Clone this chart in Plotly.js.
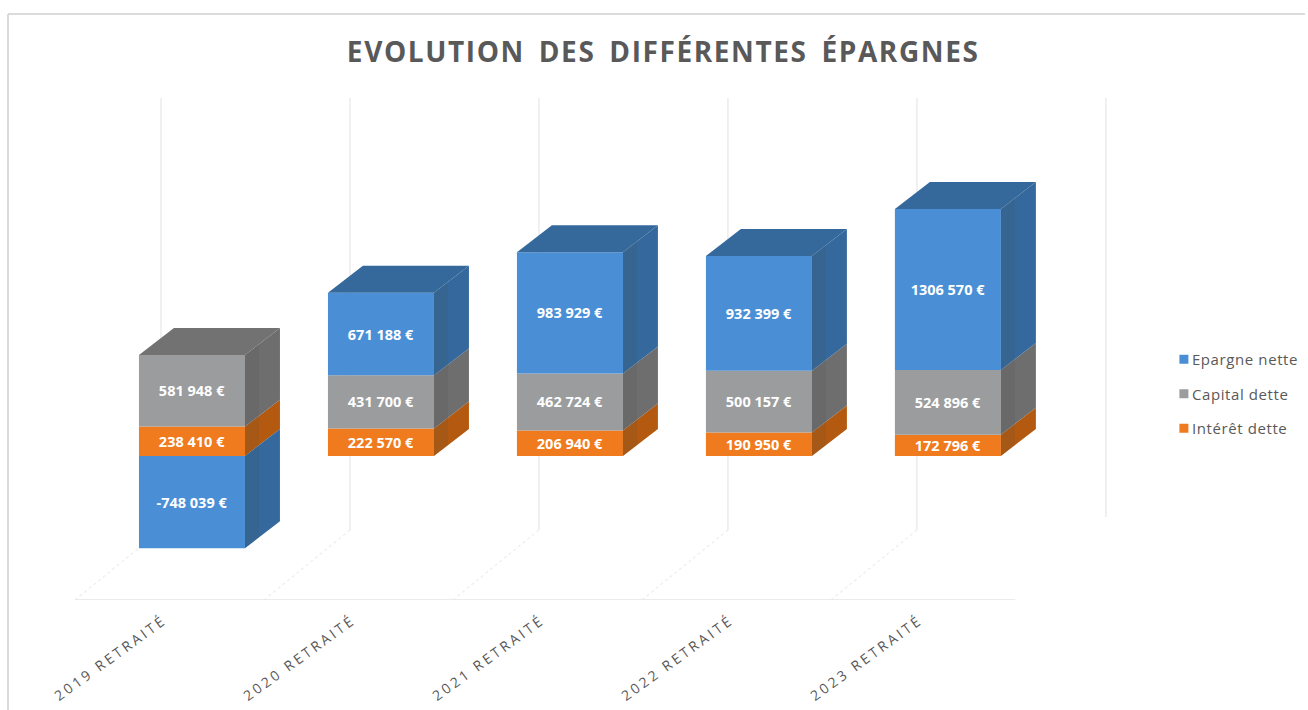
<!DOCTYPE html>
<html>
<head>
<meta charset="utf-8">
<script src="https://cdn.plot.ly/plotly-3.0.1.min.js"></script>
<style>
html,body{margin:0;padding:0;background:#fff}
#chart{width:1308px;height:710px}
.gtitle{letter-spacing:1.6px;word-spacing:5px}
.xtick text{letter-spacing:2.9px}
.legendtext{letter-spacing:.6px}
</style>
</head>
<body>
<div id="chart"></div>
<script>
// ---- data ----
var categories = ["2019 RETRAITÉ","2020 RETRAITÉ","2021 RETRAITÉ","2022 RETRAITÉ","2023 RETRAITÉ"];
var interet = [238410,222570,206940,190950,172796];
var capital = [581948,431700,462724,500157,524896];
var epargne = [-748039,671188,983929,932399,1306570];
var seriesNames = ["Intérêt dette","Capital dette","Epargne nette"];

// ---- styles ----
var frontColors = ["#F07A1E","#9A9C9E","#4A8FD6"];
var sideColors  = ["#B35A10","#6E6E6E","#35699D"];
var topColors   = ["#A9560F","#727272","#35699C"];
var gridColor = "#E6E6E6";
var BAR_W = 0.561, DX = 0.185, DY = 219000;   // oblique depth of a bar, in axis units
var WALL_DX = 0.455, WALL_DY = 568000;        // depth of the floor
var YMIN = -1168400, YMAX = 2904800;
var XMIN = -0.619, XMAX = 4.9;

function fmt(v){
  return String(v).replace(/(\d{3})$/," $1")+" €";
}
var idx = categories.map(function(_,i){return i;});
var values = [interet,capital,epargne];

var traces = [];
// front faces: native stacked bars
values.forEach(function(vals,k){
  traces.push({
    type:"bar", name:seriesNames[k], legendgroup:seriesNames[k], legendrank:3-k,
    x:idx, y:vals, width:BAR_W,
    marker:{color:frontColors[k],line:{width:0}},
    text:vals.map(fmt), textposition:"inside", insidetextanchor:"middle",
    textangle:0, constraintext:"none",
    textfont:{family:"Open Sans",size:14.5,color:"#fff",weight:700},
    hovertemplate:"%{x}<br>%{text}<extra>"+seriesNames[k]+"</extra>"
  });
});
// side faces: parallelograms computed from the stacked values
values.forEach(function(vals,k){
  var xs=[],ys=[];
  idx.forEach(function(i){
    var pos=0,neg=0;
    for(var j=0;j<k;j++){ if(values[j][i]>=0) pos+=values[j][i]; else neg+=values[j][i]; }
    var v=vals[i], a=v>=0?pos:neg, b=a+v, xr=i+BAR_W/2;
    xs.push(xr,xr+DX,xr+DX,xr,xr,null);
    ys.push(a,a+DY,b+DY,b,a,null);
  });
  traces.push({type:"scatter",mode:"lines",x:xs,y:ys,fill:"toself",fillcolor:sideColors[k],
    line:{width:0},hoverinfo:"skip",showlegend:false});
});
// top faces and the darker near strip of each side
idx.forEach(function(i){
  var tops=[interet[i],capital[i],epargne[i]], pos=0, neg=0, last=0;
  tops.forEach(function(v,k){ if(v>=0){pos+=v; last=k;} else neg+=v; });
  var xl=i-BAR_W/2, xr=i+BAR_W/2, f=0.4;
  traces.push({type:"scatter",mode:"lines",
    x:[xl,xr,xr+DX,xl+DX,xl],y:[pos,pos,pos+DY,pos+DY,pos],
    fill:"toself",fillcolor:topColors[last],line:{width:0},hoverinfo:"skip",showlegend:false});
  traces.push({type:"scatter",mode:"lines",
    x:[xr,xr+f*DX,xr+f*DX,xr,xr],y:[neg,neg+f*DY,pos+f*DY,pos,neg],
    fill:"toself",fillcolor:"rgba(70,70,70,0.12)",line:{width:0},hoverinfo:"skip",showlegend:false});
});

// back wall and floor guides
var shapes=[];
var wallBottom = YMIN+WALL_DY;
for(var g=0;g<=5;g++){
  var fx=XMIN+g*1, bx=fx+WALL_DX;
  var cut = g===5 ? wallBottom+105000 : wallBottom;
  shapes.push({type:"line",xref:"x",yref:"y",layer:"below",x0:bx,x1:bx,y0:cut,y1:YMAX,line:{color:gridColor,width:1.2}});
  if(g<5) shapes.push({type:"line",xref:"x",yref:"y",layer:"below",x0:fx,x1:bx,y0:YMIN,y1:wallBottom,line:{color:"#EDEDED",width:1.2,dash:"dot"}});
}
// floor front edge
shapes.push({type:"line",xref:"x",yref:"y",layer:"below",x0:XMIN,x1:XMIN+4.975,y0:YMIN,y1:YMIN,line:{color:"#E4E4E4",width:1.5}});
// chart frame
var plotW = 1043.1;
function px(x){return (x-75)/plotW;}
function py(y){return (600-y)/502;}
shapes.push({type:"line",xref:"paper",yref:"paper",x0:px(8),x1:px(8),y0:py(14),y1:py(710),line:{color:"#CFCFCF",width:1.5}});
shapes.push({type:"line",xref:"paper",yref:"paper",x0:px(8),x1:px(1305),y0:py(14),y1:py(14),line:{color:"#CFCFCF",width:1.5}});

var layout={
  width:1308,height:710,
  margin:{l:75,r:189.9,t:98,b:110,pad:0,autoexpand:false},
  paper_bgcolor:"#fff",plot_bgcolor:"#fff",
  barmode:"relative",
  title:{text:"EVOLUTION DES DIFFÉRENTES ÉPARGNES",xref:"container",yref:"container",x:0.507,y:0.926,xanchor:"center",yanchor:"middle",
    font:{family:"Open Sans",size:28,color:"#595959",weight:700}},
  xaxis:{range:[XMIN,XMAX],tickmode:"array",tickvals:idx.map(function(i){return i-0.15;}),ticktext:categories,
    tickangle:-36,ticks:"outside",ticklen:6,tickcolor:"rgba(0,0,0,0)",showgrid:false,zeroline:false,showline:false,fixedrange:true,
    tickfont:{family:"Open Sans",size:14,color:"#595959"}},
  yaxis:{range:[YMIN,YMAX],visible:false,showgrid:false,zeroline:false,fixedrange:true},
  showlegend:true,
  legend:{x:px(1152),xanchor:"left",y:py(343),yanchor:"top",traceorder:"grouped",tracegroupgap:12,
    font:{family:"Open Sans",size:15,color:"#595959"},bgcolor:"rgba(0,0,0,0)"},
  shapes:shapes,
  hovermode:"closest"
};
Plotly.newPlot("chart",traces,layout,{displayModeBar:false}).then(function(){
  document.querySelectorAll(".legend .legendpoints path").forEach(function(p){
    p.setAttribute("transform","translate(32,0) scale(.75)");
  });
});
</script>
</body>
</html>
